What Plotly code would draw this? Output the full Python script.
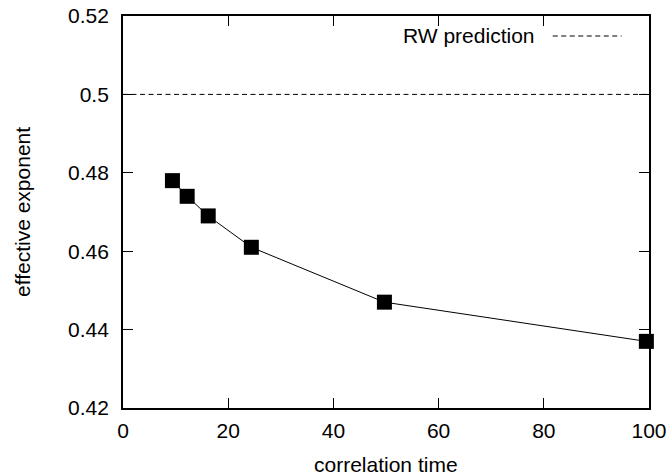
import plotly.graph_objects as go

# data
corr_time = [9.4, 12.2, 16.2, 24.4, 49.7, 99.5]
eff_exponent = [0.478, 0.474, 0.469, 0.461, 0.447, 0.437]
rw_x = [0, 100]
rw_y = [0.5, 0.5]
x_ticks = [0, 20, 40, 60, 80, 100]
y_ticks = [0.42, 0.44, 0.46, 0.48, 0.5, 0.52]
y_tick_text = ["0.42", "0.44", "0.46", "0.48", "0.5", "0.52"]

FONT = "Liberation Sans, Arial, Helvetica, sans-serif"
FS = 21

fig = go.Figure()
fig.add_trace(go.Scatter(
    x=rw_x, y=rw_y, mode="lines",
    line=dict(color="black", width=1, dash="5px,3.5px"),
    showlegend=False, hoverinfo="skip",
))
fig.add_trace(go.Scatter(
    x=corr_time, y=eff_exponent, mode="lines+markers",
    line=dict(color="black", width=1),
    marker=dict(symbol="square", size=15, color="black", line=dict(width=0)),
    cliponaxis=False, showlegend=False,
))

axis_common = dict(
    showline=True, linecolor="black", linewidth=1.8, mirror="ticks",
    ticks="inside", ticklen=10, tickwidth=1.3, tickcolor="black",
    showgrid=False, zeroline=False, automargin=False, ticklabeloverflow="allow",
    tickfont=dict(family=FONT, size=FS, color="black"),
)
fig.update_xaxes(range=[0, 100], tickvals=x_ticks, ticktext=[str(v) for v in x_ticks],
                 ticklabelstandoff=3, **axis_common)
fig.update_yaxes(range=[0.42, 0.52], tickvals=y_ticks, ticktext=y_tick_text,
                 ticklabelstandoff=8, **axis_common)

# axis titles
fig.add_annotation(text="correlation time", xref="paper", yref="paper", x=0.5, y=0,
                   yanchor="middle", yshift=-56, showarrow=False,
                   font=dict(family=FONT, size=FS, color="black"))
fig.add_annotation(text="effective exponent", xref="paper", yref="paper", x=0, y=0.5,
                   xanchor="center", xshift=-101, textangle=-90, showarrow=False,
                   font=dict(family=FONT, size=FS, color="black"))

# gnuplot-style key: text then dashed sample to its right
fig.add_annotation(text="RW prediction", xref="paper", yref="paper", x=0.787, y=0.949,
                   xanchor="right", yanchor="middle", showarrow=False,
                   font=dict(family=FONT, size=FS, color="black"))
fig.add_shape(type="line", xref="paper", yref="paper", x0=0.817, x1=0.948, y0=0.949, y1=0.949,
              line=dict(color="black", width=1, dash="5px,3.5px"))

fig.update_layout(
    template="none",
    width=672, height=476,
    margin=dict(l=123, r=23, t=16, b=68, pad=0),
    paper_bgcolor="white", plot_bgcolor="white",
    font=dict(family=FONT, size=FS, color="black"),
)
fig.write_html("out.html", config={"displayModeBar": False},
               post_script="document.body.style.margin='0';document.body.style.overflow='hidden';")
